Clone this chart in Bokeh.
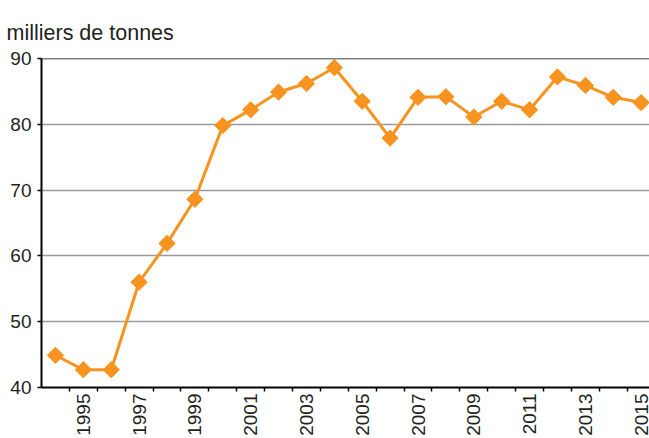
import math
from bokeh.plotting import figure
from bokeh.models import FixedTicker, Span, ColumnDataSource, Range1d, Title
from bokeh.embed import file_html
from bokeh.resources import INLINE

years = list(range(1994, 2016))
values = [44.9, 42.7, 42.7, 56.0, 61.9, 68.6, 79.8, 82.2, 84.9, 86.2, 88.6,
          83.5, 77.9, 84.1, 84.2, 81.1, 83.5, 82.2, 87.2, 85.9, 84.1, 83.3]
label_years = list(range(1995, 2016, 2))
y_ticks = [40, 50, 60, 70, 80, 90]
unit_text = "milliers de tonnes"

ORANGE = "#F7931E"
FONT = "Liberation Sans"
TXT = "#231F20"

p = figure(width=649, height=438, output_backend="svg", toolbar_location=None,
           x_range=Range1d(1993.5, 2015.3), y_range=Range1d(40, 90),
           min_border_left=41, min_border_right=0, min_border_top=58,
           min_border_bottom=51)
p.outline_line_color = None
p.background_fill_color = "white"

t = Title(text=unit_text, align="left", text_font_size="21.5px", text_font=FONT,
          text_font_style="normal", text_color=TXT, offset=-35, standoff=28)
p.add_layout(t, "above")

# y axis
p.yaxis.ticker = FixedTicker(ticks=y_ticks)
p.yaxis.axis_line_color = "black"
p.yaxis.axis_line_width = 2
p.yaxis.major_tick_out = 4
p.yaxis.major_tick_in = 0
p.yaxis.major_tick_line_color = "black"
p.yaxis.major_tick_line_width = 1.5
p.yaxis.minor_tick_line_color = None
p.yaxis.major_label_text_font = FONT
p.yaxis.major_label_text_font_size = "19px"
p.yaxis.major_label_text_color = TXT
p.yaxis.major_label_standoff = 6

# x axis: labels at odd years, tick marks at category boundaries
p.xaxis.ticker = FixedTicker(ticks=label_years, minor_ticks=[y + 0.5 for y in years[:-1]])
p.xaxis.axis_line_color = "black"
p.xaxis.axis_line_width = 2
p.xaxis.major_tick_out = 0
p.xaxis.major_tick_in = 0
p.xaxis.minor_tick_out = 4
p.xaxis.minor_tick_in = 0
p.xaxis.minor_tick_line_color = "black"
p.xaxis.minor_tick_line_width = 1.5
p.xaxis.major_label_orientation = math.pi / 2
p.xaxis.major_label_text_font = FONT
p.xaxis.major_label_text_font_size = "19px"
p.xaxis.major_label_text_color = TXT
p.xaxis.major_label_standoff = 2

p.xgrid.grid_line_color = None
p.ygrid.ticker = FixedTicker(ticks=[50, 60, 70, 80])
p.ygrid.grid_line_color = "#9A9A9A"
p.ygrid.grid_line_width = 1.5

p.add_layout(Span(location=90, dimension="width", line_color="black", line_width=1.5))

src = ColumnDataSource(dict(x=years, y=values))
p.line("x", "y", source=src, line_color=ORANGE, line_width=3)
p.scatter("x", "y", source=src, marker="square", size=11.5, angle=math.pi / 4,
          fill_color=ORANGE, line_color=ORANGE)

open("out.html", "w").write(file_html(p, INLINE))
